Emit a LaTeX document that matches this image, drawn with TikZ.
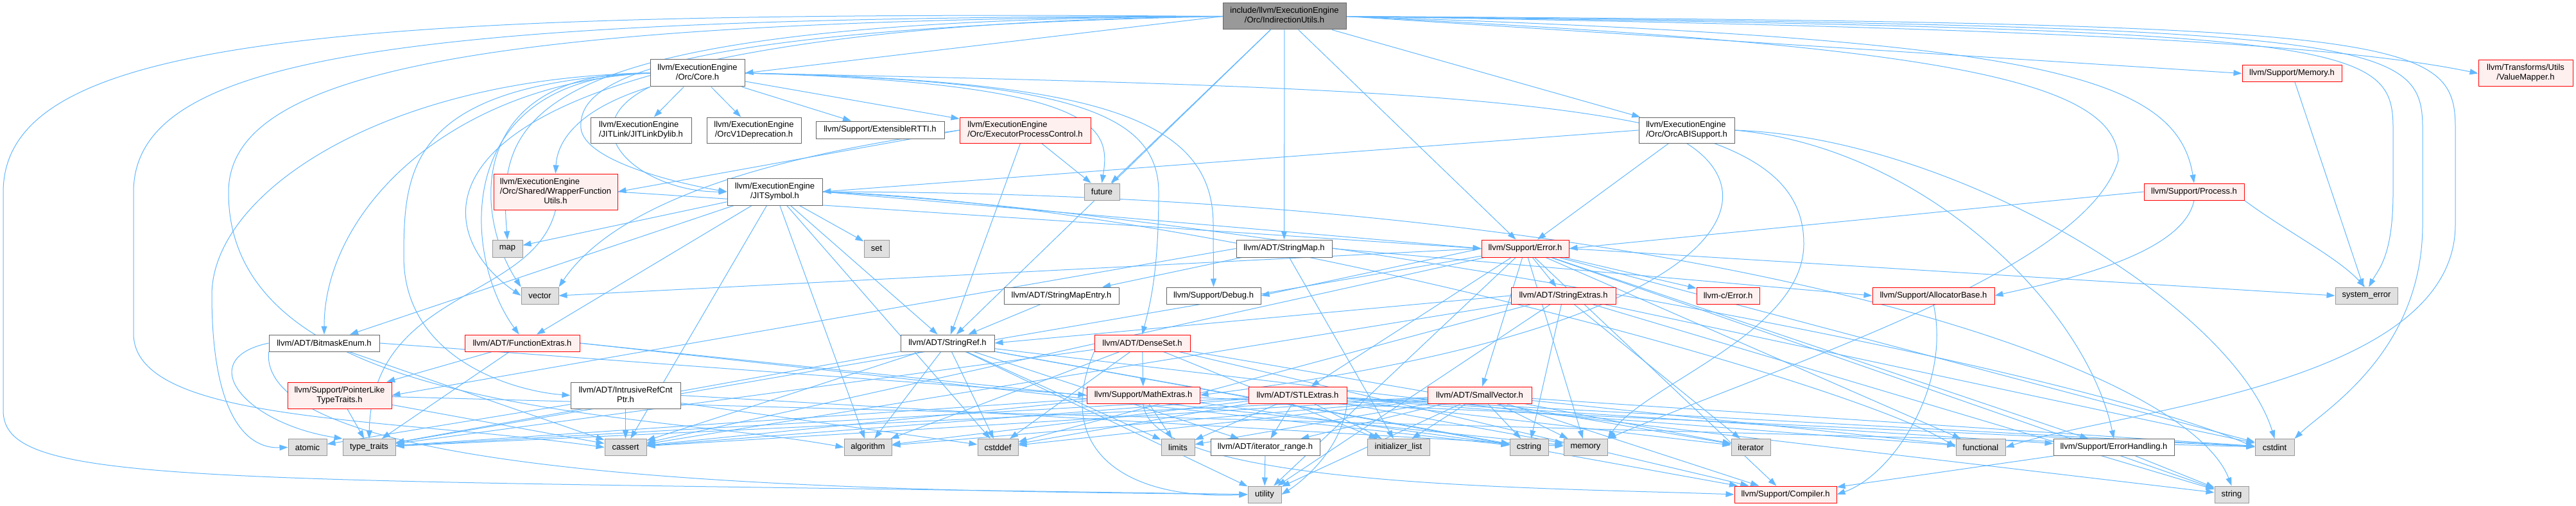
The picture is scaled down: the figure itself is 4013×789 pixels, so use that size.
\documentclass[tikz,border=0pt]{standalone}
\usepackage{fontspec}
\setmainfont{Liberation Sans}
\usetikzlibrary{arrows.meta}
\newcommand{\dtwo}[2]{\begin{tabular}{@{}l@{}}#1\\\multicolumn{1}{@{}c@{}}{#2}\end{tabular}}
\newcommand{\dthree}[3]{\begin{tabular}{@{}l@{}}#1\\#2\\\multicolumn{1}{@{}c@{}}{#3}\end{tabular}}
\definecolor{edgeblue}{HTML}{63B8FF}
\definecolor{greyforty}{HTML}{666666}
\definecolor{sysborder}{HTML}{999999}
\definecolor{sysfill}{HTML}{E0E0E0}
\definecolor{redfill}{HTML}{FFF0F0}
\definecolor{rootfill}{HTML}{999999}
\pgfdeclarelayer{bglayer}
\pgfdeclarelayer{edgelayer}
\pgfsetlayers{bglayer,edgelayer,main}
\tikzset{
  box/.style={rectangle, inner sep=0pt, line width=1pt, font=\fontsize{13}{15}\selectfont, text=black},
  nrm/.style={box, draw=greyforty, fill=white},
  rednode/.style={box, draw=red, fill=redfill},
  sys/.style={box, draw=sysborder, fill=sysfill},
  rootnode/.style={box, draw=greyforty, fill=rootfill},
  edg/.style={draw=edgeblue, line width=1pt, -{Triangle[length=13pt,width=9pt]}}
}
\begin{document}
\begin{tikzpicture}[x=1pt,y=1pt]
\begin{pgfonlayer}{bglayer}
\fill[white] (0,0) rectangle (4013,-789);
\end{pgfonlayer}
\useasboundingbox (0,0) rectangle (4013,-789);
% ---- nodes ----
\node[rootnode, minimum width=192, minimum height=41] (R) at (2001,-25.5) {\dtwo{include/llvm/ExecutionEngine}{/Orc/IndirectionUtils.h}};
\node[nrm, minimum width=147, minimum height=42] (Core) at (1086.5,-114) {\dtwo{llvm/ExecutionEngine}{/Orc/Core.h}};
\node[rednode, minimum width=155, minimum height=26] (MM) at (3570.5,-114.5) {llvm/Support/Memory.h};
\node[rednode, minimum width=147, minimum height=41] (VM) at (3934.5,-114.5) {\dtwo{llvm/Transforms/Utils}{/ValueMapper.h}};
\node[nrm, minimum width=157, minimum height=40] (JL) at (998.5,-203) {\dtwo{llvm/ExecutionEngine}{/JITLink/JITLinkDylib.h}};
\node[nrm, minimum width=147, minimum height=40] (OV) at (1174.5,-203) {\dtwo{llvm/ExecutionEngine}{/OrcV1Deprecation.h}};
\node[nrm, minimum width=200, minimum height=27] (XR) at (1371,-202.5) {llvm/Support/ExtensibleRTTI.h};
\node[rednode, minimum width=204, minimum height=40] (EPC) at (1597,-203) {\dtwo{llvm/ExecutionEngine}{/Orc/ExecutorProcessControl.h}};
\node[nrm, minimum width=149, minimum height=40] (OA) at (2627.5,-203) {\dtwo{llvm/ExecutionEngine}{/Orc/OrcABISupport.h}};
\node[rednode, minimum width=193, minimum height=56] (WFU) at (865.5,-299) {\dthree{llvm/ExecutionEngine}{/Orc/Shared/WrapperFunction}{Utils.h}};
\node[nrm, minimum width=148, minimum height=42] (JS) at (1207,-299) {\dtwo{llvm/ExecutionEngine}{/JITSymbol.h}};
\node[sys, minimum width=55, minimum height=26] (FU) at (1716.5,-299) {future};
\node[rednode, minimum width=156, minimum height=26] (PR) at (3418,-299) {llvm/Support/Process.h};
\node[sys, minimum width=47, minimum height=27] (map) at (790.5,-387.5) {map};
\node[sys, minimum width=39, minimum height=27] (set) at (1365.5,-387.5) {set};
\node[nrm, minimum width=149, minimum height=27] (SM) at (2000.5,-387.5) {llvm/ADT/StringMap.h};
\node[rednode, minimum width=136, minimum height=27] (ER) at (2376,-387.5) {llvm/Support/Error.h};
\node[sys, minimum width=58, minimum height=26] (VC) at (841,-461) {vector};
\node[nrm, minimum width=179, minimum height=26] (SME) at (1653.5,-461) {llvm/ADT/StringMapEntry.h};
\node[nrm, minimum width=147, minimum height=26] (DB) at (1890.5,-461) {llvm/Support/Debug.h};
\node[rednode, minimum width=163, minimum height=26] (SE) at (2435.5,-461) {llvm/ADT/StringExtras.h};
\node[rednode, minimum width=98, minimum height=26] (CE) at (2692,-461) {llvm-c/Error.h};
\node[rednode, minimum width=190, minimum height=26] (AB) at (3012,-461) {llvm/Support/AllocatorBase.h};
\node[sys, minimum width=97, minimum height=26] (SYE) at (3686.5,-461) {system\_error};
\node[nrm, minimum width=172, minimum height=26] (BE) at (505,-535) {llvm/ADT/BitmaskEnum.h};
\node[rednode, minimum width=179, minimum height=26] (FE) at (813.5,-535) {llvm/ADT/FunctionExtras.h};
\node[nrm, minimum width=146, minimum height=26] (SR) at (1476,-535) {llvm/ADT/StringRef.h};
\node[rednode, minimum width=149, minimum height=26] (DS) at (1779.5,-535) {llvm/ADT/DenseSet.h};
\node[rednode, minimum width=162, minimum height=41] (PL) at (529,-616.5) {\dtwo{llvm/Support/PointerLike}{TypeTraits.h}};
\node[nrm, minimum width=171, minimum height=41] (IR) at (974.5,-616.5) {\dtwo{llvm/ADT/IntrusiveRefCnt}{Ptr.h}};
\node[rednode, minimum width=176, minimum height=26] (ME) at (1781,-616) {llvm/Support/MathExtras.h};
\node[rednode, minimum width=153, minimum height=26] (ST) at (2021.5,-616) {llvm/ADT/STLExtras.h};
\node[rednode, minimum width=162, minimum height=26] (SV) at (2305,-616) {llvm/ADT/SmallVector.h};
\node[sys, minimum width=60, minimum height=26] (atomic) at (479,-697.5) {atomic};
\node[sys, minimum width=82, minimum height=26] (TT) at (575,-697.5) {type\_traits};
\node[sys, minimum width=65, minimum height=26] (CA) at (974.5,-697.5) {cassert};
\node[sys, minimum width=74, minimum height=26] (AL) at (1352,-697.5) {algorithm};
\node[sys, minimum width=63, minimum height=26] (CD) at (1554.5,-697.5) {cstddef};
\node[sys, minimum width=52, minimum height=26] (LI) at (1835,-697.5) {limits};
\node[nrm, minimum width=170, minimum height=26] (IRG) at (1971,-697.5) {llvm/ADT/iterator\_range.h};
\node[sys, minimum width=97, minimum height=26] (IL) at (2178.5,-697.5) {initializer\_list};
\node[sys, minimum width=60, minimum height=26] (CS) at (2382,-697.5) {cstring};
\node[sys, minimum width=68, minimum height=26] (MEM) at (2470,-697.5) {memory};
\node[sys, minimum width=61, minimum height=26] (IT) at (2727.5,-697.5) {iterator};
\node[sys, minimum width=77, minimum height=26] (FN) at (3085.5,-697.5) {functional};
\node[nrm, minimum width=188, minimum height=26] (EH) at (3293,-697.5) {llvm/Support/ErrorHandling.h};
\node[sys, minimum width=61, minimum height=26] (CI) at (3543.5,-697.5) {cstdint};
\node[sys, minimum width=52, minimum height=26] (UT) at (1970,-771) {utility};
\node[rednode, minimum width=159, minimum height=26] (CO) at (2781.5,-771) {llvm/Support/Compiler.h};
\node[sys, minimum width=53, minimum height=26] (STR) at (3476.5,-771) {string};
% ---- edges ----
\begin{pgfonlayer}{edgelayer}
% root
\draw[edg] (R.west) -- (Core.east);
\draw[edg] (R.west) .. controls (1000,-45) and (900,-130) .. (905,-200) .. controls (910,-250) and (1050,-285) .. (JS.west);
\draw[edg] (R) -- (OA);
\draw[edg] (R.east) -- (MM.west);
\draw[edg] (R.east) .. controls (3000,-40) and (3600,-60) .. (VM.west);
\draw[edg] (R.east) .. controls (3150,-60) and (3390,-110) .. (PR.north);
\draw[edg] (R) -- (SM);
\draw[edg] (R) -- (SR);
\draw[edg] (R) -- (ER);
\draw[edg] (R) -- (FU);
\draw[edg] (R.west) .. controls (800,-30) and (775,-180) .. (map.north);
\draw[edg] (R.west) .. controls (600,-40) and (650,-350) .. (VC.west);
\draw[edg] (R.west) .. controls (700,-30) and (356,-120) .. (356,-300) .. controls (356,-650) and (1000,-640) .. (AL.west);
\draw[edg] (R.west) .. controls (600,-25) and (208,-90) .. (208,-300) -- (208,-520) .. controls (208,-660) and (600,-650) .. (CA.west);
\draw[edg] (R.east) .. controls (3700,-40) and (3774,-60) .. (3774,-200) -- (3774,-350) .. controls (3774,-550) and (3620,-640) .. (CI.north east);
\draw[edg] (R.east) .. controls (3750,-35) and (3825,-55) .. (3825,-200) -- (3825,-350) .. controls (3825,-600) and (3300,-640) .. (FN.east);
\draw[edg] (R.east) .. controls (3660,-45) and (3728,-65) .. (3728,-200) -- (3728,-300) .. controls (3728,-400) and (3705,-420) .. (SYE.75);
\draw[edg] (R.east) .. controls (3000,-70) and (3300,-120) .. (3300,-250) .. controls (3250,-420) and (2800,-560) .. (MEM.north east);
\draw[edg] (R.west) .. controls (500,-15) and (5,-60) .. (5,-300) -- (5,-640) .. controls (5,-760) and (300,-745) .. (UT.west);
% Core
\draw[edg] (Core) -- (JL);
\draw[edg] (Core) -- (OV);
\draw[edg] (Core) -- (XR);
\draw[edg] (Core) -- (EPC);
\draw[edg] (Core.south west) .. controls (900,-170) and (868,-220) .. (WFU.north);
\draw[edg] (Core.south west) .. controls (880,-200) and (1000,-300) .. (JS.west);
\draw[edg] (Core.west) .. controls (700,-130) and (505,-330) .. (BE.north);
\draw[edg] (Core.west) .. controls (700,-120) and (720,-400) .. (FE.110);
\draw[edg] (Core.west) .. controls (640,-130) and (629,-260) .. (629,-400) .. controls (629,-560) and (800,-610) .. (IR.west);
\draw[edg] (Core.east) .. controls (1650,-125) and (1805,-170) .. (1805,-300) .. controls (1805,-430) and (1790,-480) .. (DS.north);
\draw[edg] (Core.east) .. controls (1700,-125) and (1890,-180) .. (1890,-350) -- (DB.north);
\draw[edg] (Core.west) .. controls (600,-120) and (330,-300) .. (330,-460) .. controls (330,-640) and (380,-700) .. (atomic.west);
\draw[edg] (Core.east) .. controls (1720,-130) and (1730,-200) .. (FU.north);
\draw[edg] (Core.east) .. controls (2400,-140) and (2810,-160) .. (2810,-380) .. controls (2810,-520) and (2560,-600) .. (MEM.north east);
\draw[edg] (Core.west) .. controls (730,-110) and (735,-330) .. (VC.north west);
% JITSymbol
\draw[edg] (JS) -- (BE);
\draw[edg] (JS) -- (FE);
\draw[edg] (JS) -- (SR);
\draw[edg] (JS.east) -- (ER.west);
\draw[edg] (JS) -- (AL);
\draw[edg] (JS) -- (CA);
\draw[edg] (JS) -- (CD);
\draw[edg] (JS.east) .. controls (1900,-330) and (3200,-560) .. (CI.west);
\draw[edg] (JS.east) .. controls (1900,-320) and (2900,-600) .. (FN.west);
\draw[edg] (JS) -- (map);
\draw[edg] (JS) -- (set);
\draw[edg] (JS.east) .. controls (2600,-300) and (3400,-560) .. (STR.north);
% OrcABISupport
\draw[edg] (OA.west) -- (JS.east);
\draw[edg] (OA) -- (ER);
\draw[edg] (OA.south) .. controls (2780,-320) and (2650,-520) .. (ME.east);
\draw[edg] (OA.east) .. controls (3000,-230) and (3250,-480) .. (EH.north);
\draw[edg] (OA.east) .. controls (3050,-215) and (3480,-480) .. (CI.north);
% EPC
\draw[edg] (EPC.west) -- (WFU.east);
\draw[edg] (EPC) -- (FU);
\draw[edg] (EPC) -- (SR);
\draw[edg] (EPC.west) .. controls (1150,-250) and (950,-330) .. (VC.north east);
% WFU
\draw[edg] (WFU.east) -- (ER.west);
\draw[edg] (WFU.south) .. controls (830,-470) and (580,-450) .. (TT.north);
% StringMap
\draw[edg] (SM) -- (SME);
\draw[edg] (SM.east) -- (AB.west);
\draw[edg] (SM.west) -- (PL.east);
\draw[edg] (SM) -- (IL);
\draw[edg] (SME) -- (SR);
% StringRef
\draw[edg] (SR) -- (IRG);
\draw[edg] (SR) -- (CO);
\draw[edg] (SR) -- (AL);
\draw[edg] (SR) -- (CA);
\draw[edg] (SR) -- (CD);
\draw[edg] (SR) -- (CS);
\draw[edg] (SR) -- (LI);
\draw[edg] (SR) -- (STR);
\draw[edg] (SR) -- (TT);
\draw[edg] (SR) -- (UT);
% Error
\draw[edg] (ER) -- (CE);
\draw[edg] (ER) -- (SE);
\draw[edg] (ER) -- (SV);
\draw[edg] (ER) -- (ST);
\draw[edg] (ER.west) -- (DB.east);
\draw[edg] (ER) -- (EH);
\draw[edg] (ER) -- (CO);
\draw[edg] (ER) -- (CA);
\draw[edg] (ER) -- (CI);
\draw[edg] (ER) -- (FN);
\draw[edg] (ER) -- (MEM);
\draw[edg] (ER) -- (STR);
\draw[edg] (ER.east) -- (SYE.west);
\draw[edg] (ER) -- (TT);
\draw[edg] (ER) -- (UT);
\draw[edg] (ER.west) -- (VC.east);
% StringExtras
\draw[edg] (SE.west) -- (SR.east);
\draw[edg] (SE) -- (CA);
\draw[edg] (SE) -- (CD);
\draw[edg] (SE) -- (CI);
\draw[edg] (SE) -- (CS);
\draw[edg] (SE) -- (IT);
\draw[edg] (SE) -- (STR);
\draw[edg] (SE) -- (UT);
% AllocatorBase, Process, Memory
\draw[edg] (AB.south) .. controls (3040,-600) and (2950,-740) .. (CO.east);
\draw[edg] (PR.west) -- (ER.east);
\draw[edg] (PR.south) .. controls (3400,-400) and (3200,-440) .. (AB.east);
\draw[edg] (PR.south east) .. controls (3560,-360) and (3640,-400) .. (SYE.100);
\draw[edg] (MM) -- (SYE);
% BitmaskEnum
\draw[edg] (BE.east) -- (ME.west);
\draw[edg] (BE) -- (CA);
\draw[edg] (BE.west) .. controls (300,-560) and (380,-660) .. (TT.north west);
\draw[edg] (BE.south west) .. controls (400,-760) and (1400,-765) .. (UT.west);
% FunctionExtras
\draw[edg] (FE) -- (PL);
\draw[edg] (FE) -- (TT);
\draw[edg] (FE.east) -- (CS);
\draw[edg] (FE.east) -- (MEM);
% DenseSet
\draw[edg] (DS) -- (ME);
\draw[edg] (DS) -- (AL);
\draw[edg] (DS) -- (CD);
\draw[edg] (DS) -- (TT);
\draw[edg] (DS.south west) .. controls (1640,-700) and (1750,-780) .. (UT.west);
\draw[edg] (DS) -- (IL);
\draw[edg] (DS) -- (IT);
\draw[edg] (DS) -- (CO);
% PointerLike, IntrusiveRefCntPtr
\draw[edg] (PL) -- (TT);
\draw[edg] (PL) -- (CA);
\draw[edg] (PL) -- (CI);
\draw[edg] (IR) -- (atomic);
\draw[edg] (IR) -- (CA);
\draw[edg] (IR) -- (CD);
\draw[edg] (IR.east) -- (MEM);
% MathExtras
\draw[edg] (ME.south) .. controls (1790,-760) and (2400,-760) .. (CO.west);
\draw[edg] (ME) -- (LI);
\draw[edg] (ME) -- (CA);
\draw[edg] (ME) -- (CI);
\draw[edg] (ME) -- (CS);
\draw[edg] (ME) -- (TT);
% STLExtras
\draw[edg] (ST) -- (IRG);
\draw[edg] (ST) -- (LI);
\draw[edg] (ST.south east) .. controls (2090,-700) and (2030,-750) .. (UT.east);
\draw[edg] (ST) -- (IL);
\draw[edg] (ST) -- (IT);
\draw[edg] (ST) -- (AL);
\draw[edg] (ST) -- (CA);
\draw[edg] (ST) -- (CD);
\draw[edg] (ST) -- (CI);
\draw[edg] (ST) -- (FN);
\draw[edg] (ST) -- (MEM);
\draw[edg] (ST) -- (TT);
\draw[edg] (ST) -- (EH);
% SmallVector
\draw[edg] (SV) -- (CO);
\draw[edg] (SV) -- (IRG);
\draw[edg] (SV) -- (AL);
\draw[edg] (SV) -- (CA);
\draw[edg] (SV) -- (CD);
\draw[edg] (SV) -- (CI);
\draw[edg] (SV) -- (CS);
\draw[edg] (SV) -- (FN);
\draw[edg] (SV) -- (IL);
\draw[edg] (SV) -- (IT);
\draw[edg] (SV) -- (LI);
\draw[edg] (SV) -- (MEM);
\draw[edg] (SV) -- (TT);
\draw[edg] (SV) -- (UT);
% others
\draw[edg] (IRG) -- (UT);
\draw[edg] (EH) -- (CO);
\draw[edg] (EH) -- (STR);
\end{pgfonlayer}
\end{tikzpicture}
\end{document}
